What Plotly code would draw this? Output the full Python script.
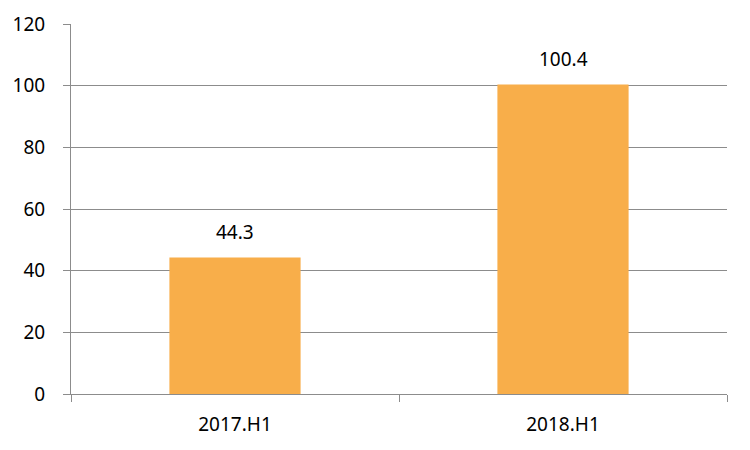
import plotly.graph_objects as go

categories = ["2017.H1", "2018.H1"]
values = [44.3, 100.4]
labels = ["44.3", "100.4"]

fig = go.Figure(go.Bar(
    x=categories, y=values,
    marker=dict(color="#F8AE4A", line=dict(width=0)), width=0.4,
))
for c, v, t in zip(categories, values, labels):
    fig.add_annotation(x=c, y=v, text=t, showarrow=False, yanchor="bottom", yshift=10,
                       font=dict(size=19, color="#000000"))
fig.update_layout(
    width=742, height=442, margin=dict(l=63, r=23, t=16, b=56),
    paper_bgcolor="white", plot_bgcolor="white",
    font=dict(family="Noto Sans", size=19, color="#000000"),
    showlegend=False, bargap=0.6,
)
fig.update_yaxes(range=[0, 120], dtick=20, showgrid=True, gridcolor="#8C8C8C", gridwidth=1,
                 showline=True, linecolor="#8C8C8C", ticks="outside", ticklen=7, tickcolor="#8C8C8C",
                 zeroline=False, ticklabelstandoff=14, automargin=False)
fig.update_xaxes(showline=True, linecolor="#8C8C8C", ticks="outside", ticklen=7, tickcolor="#8C8C8C",
                 tickson="boundaries", showgrid=False, ticklabelstandoff=13, automargin=False)
fig.write_html("out.html")
